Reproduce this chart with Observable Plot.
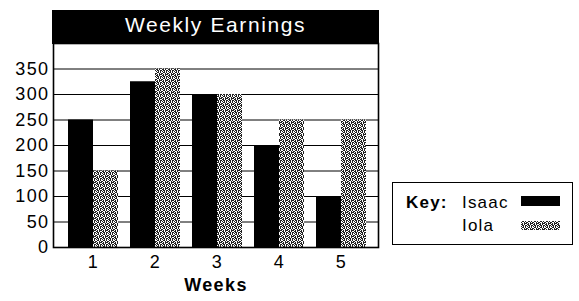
<!DOCTYPE html>
<html>
<head>
<meta charset="utf-8">
<script src="https://cdn.jsdelivr.net/npm/d3@7"></script>
<script src="https://cdn.jsdelivr.net/npm/@observablehq/plot@0.6"></script>
<style>
  html, body { margin: 0; padding: 0; background: #fff; }
  #wrap { position: relative; width: 579px; height: 301px; font-family: "Liberation Sans", Arial, sans-serif; color: #000; }
  #title { position: absolute; left: 52px; top: 10px; width: 327px; height: 34px; background: #000; color: #fff;
           font-size: 21px; letter-spacing: 1.6px; text-align: center; line-height: 30px; }
  #legend { position: absolute; left: 392px; top: 182px; width: 179px; height: 61px; border: 1.5px solid #000; }
  .lt { position: absolute; font-size: 17px; line-height: 17px; letter-spacing: 1.2px; white-space: nowrap; }
  .sw { position: absolute; }
</style>
</head>
<body>
<svg width="0" height="0" style="position:absolute">
  <defs>
    <pattern id="iolaPat" width="6" height="6" patternUnits="userSpaceOnUse">
      <rect width="6" height="6" fill="#222"></rect>
      <rect x="0" y="0" width="1" height="1" fill="#fff"></rect>
      <rect x="1" y="1" width="1" height="1" fill="#fff"></rect>
      <rect x="3" y="0" width="1" height="1" fill="#fff"></rect>
      <rect x="4" y="1" width="1" height="1" fill="#fff"></rect>
      <rect x="2" y="3" width="1" height="1" fill="#fff"></rect>
      <rect x="3" y="4" width="1" height="1" fill="#fff"></rect>
      <rect x="5" y="3" width="1" height="1" fill="#fff"></rect>
      <rect x="0" y="4" width="1" height="1" fill="#fff"></rect>
      <rect x="5" y="5" width="1" height="1" fill="#fff"></rect>
      <rect x="2" y="2" width="1" height="1" fill="#fff"></rect>
      <rect x="1" y="5" width="1" height="1" fill="#fff"></rect>
      <rect x="4" y="3" width="1" height="1" fill="#fff"></rect>
      <rect x="5" y="0" width="1" height="1" fill="#fff"></rect>
      <rect x="0" y="2" width="1" height="1" fill="#fff"></rect>
      <rect x="3" y="5" width="1" height="1" fill="#fff"></rect>
      <rect x="2" y="1" width="1" height="1" fill="#fff"></rect>
    </pattern>
  </defs>
</svg>
<div id="wrap">
  <div id="chart"></div>
  <div id="title">Weekly Earnings</div>
  <div id="legend"></div>
</div>
<script>
const weeks = ["1", "2", "3", "4", "5"];
const isaac = [250, 325, 300, 200, 100];
const iola = [150, 350, 300, 250, 250];
const yTicks = [0, 50, 100, 150, 200, 250, 300, 350];
const seriesNames = ["Isaac", "Iola"];
const xLabel = "Weeks";

const isaacData = weeks.map((w, i) => ({week: w, value: isaac[i]}));
const iolaData = weeks.map((w, i) => ({week: w, value: iola[i]}));

const plot = Plot.plot({
  width: 579,
  height: 301,
  marginTop: 43,
  marginBottom: 54,
  marginLeft: 53,
  marginRight: 201,
  style: {fontFamily: "Liberation Sans, Arial, sans-serif", fontSize: "18px", color: "#000", background: "transparent", letterSpacing: "1.4px"},
  x: {type: "band", domain: weeks, paddingInner: 0.2, paddingOuter: 0.2, align: 0.55},
  y: {domain: [0, 400]},
  marks: [
    Plot.gridY(yTicks, {stroke: "#000", strokeOpacity: 1, strokeWidth: 1}),
    Plot.barY(isaacData, {x: "week", y: "value", fill: "#000", insetRight: 25}),
    Plot.barY(iolaData, {x: "week", y: "value", fill: "url(#iolaPat)", insetLeft: 25}),
    Plot.frame({stroke: "#000", strokeWidth: 1.6}),
    Plot.axisY({ticks: yTicks, tickSize: 0, tickPadding: 4, label: null}),
    Plot.axisX({tickSize: 0, tickPadding: 8, label: null}),
    Plot.text([xLabel], {frameAnchor: "bottom", dy: 43, fontWeight: "bold", fontSize: 18})
  ]
});
document.getElementById("chart").appendChild(plot);

// legend
const legend = document.getElementById("legend");
const key = document.createElement("span");
key.className = "lt"; key.textContent = "Key:"; key.style.fontWeight = "bold";
key.style.left = "13px"; key.style.top = "11px";
legend.appendChild(key);
const fills = ["#000", "url(#iolaPat)"];
const tops = [11, 34];
const swTops = [13, 38];
const swH = [10, 9];
seriesNames.forEach((name, i) => {
  const t = document.createElement("span");
  t.className = "lt"; t.textContent = name;
  t.style.left = "69px"; t.style.top = tops[i] + "px";
  legend.appendChild(t);
  const s = document.createElementNS("http://www.w3.org/2000/svg", "svg");
  s.setAttribute("class", "sw");
  s.setAttribute("width", 39); s.setAttribute("height", swH[i]);
  s.style.left = "128px"; s.style.top = swTops[i] + "px";
  const r = document.createElementNS("http://www.w3.org/2000/svg", "rect");
  r.setAttribute("width", 39); r.setAttribute("height", swH[i]); r.setAttribute("fill", fills[i]);
  s.appendChild(r);
  legend.appendChild(s);
});
</script>
</body>
</html>
